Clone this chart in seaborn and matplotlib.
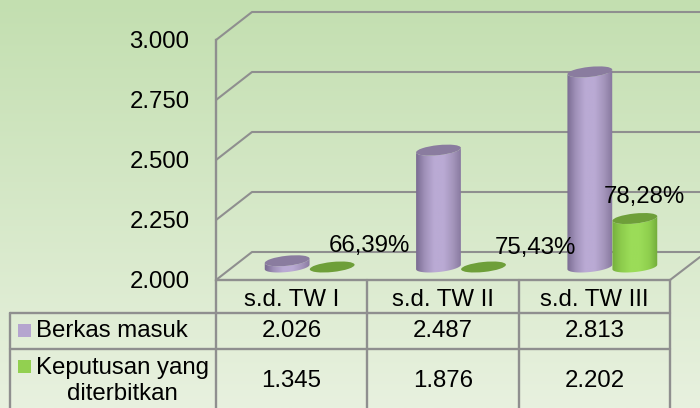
import numpy as np
import pandas as pd
import matplotlib
matplotlib.use("Agg")
import matplotlib.pyplot as plt
import seaborn as sns
from matplotlib.colors import to_rgb
from matplotlib.patches import Ellipse, PathPatch, Rectangle
from matplotlib.path import Path
from matplotlib.transforms import IdentityTransform

# -----------------------------
# DATA
# -----------------------------
categories = ["s.d. TW I", "s.d. TW II", "s.d. TW III"]
berkas_masuk = [2026, 2487, 2813]
keputusan = [1345, 1876, 2202]
persen = ["66,39%", "75,43%", "78,28%"]
y_ticks = [2000, 2250, 2500, 2750, 3000]

W, H = 700, 408
GRID = "#8f8f8f"
TEXT_SIZE = 17.3


def fmt(v):
    return f"{v:,}".replace(",", ".")


sns.set_theme(style="white")
plt.rcParams["font.family"] = ["Liberation Sans", "DejaVu Sans"]

fig = plt.figure(figsize=(W / 100, H / 100), dpi=100)


def px_axes(left, right, top, bottom):
    return fig.add_axes([left / W, 1 - bottom / H, (right - left) / W, (bottom - top) / H])


# background, walls and table are drawn in pixel units
bg = px_axes(0, W, 0, H)
bg.set_xlim(0, W)
bg.set_ylim(H, 0)
bg.axis("off")
top_c, bot_c = np.array(to_rgb("#c3dfb0")), np.array(to_rgb("#e8f1df"))
grad = np.linspace(0, 1, 256)[:, None, None] * (bot_c - top_c) + top_c
bg.imshow(grad, extent=(0, W, H, 0), aspect="auto", zorder=0)

# front plane with the value axis
front = px_axes(216, 670, 40, 280)
front.patch.set_alpha(0)
front.set_ylim(2000, 3000)
front.set_xlim(-0.5, 2.5)
front.set_yticks(y_ticks)
front.set_yticklabels([fmt(v) for v in y_ticks], fontsize=TEXT_SIZE, color="black")
front.set_xticks([])
front.tick_params(axis="y", length=0, pad=19)
for side in ["top", "right", "bottom"]:
    front.spines[side].set_visible(False)
front.spines["left"].set_color(GRID)
front.spines["left"].set_linewidth(1.7)

# gridlines on the side and back wall
for v in y_ticks:
    py = 280 - (v - 2000) * 0.24
    bg.plot([216, 252, 700], [py, py - 28, py - 28], color=GRID, lw=1.5, zorder=1)
bg.plot([670, 700], [280, 257], color=GRID, lw=1.5, zorder=1)

# bars, one depth step behind the front plane
ax = px_axes(234, 688, 27, 267)
ax.patch.set_alpha(0)
df = pd.DataFrame({
    "kategori": categories * 2,
    "nilai": berkas_masuk + keputusan,
    "seri": ["Berkas masuk"] * 3 + ["Keputusan yang diterbitkan"] * 3,
})
sns.barplot(data=df, x="kategori", y="nilai", hue="seri", width=0.595, gap=0,
            legend=False, ax=ax)
ax.set_ylim(2000, 3000)
ax.set_xlim(-0.5, 2.5)
ax.axis("off")

ANGLE = np.deg2rad(6)
ELL_H = 10


def ell_points(cx, cy, a, b, start, stop):
    t = np.linspace(start, stop, 40)
    x = cx + a * np.cos(t) * np.cos(ANGLE) - b * np.sin(t) * np.sin(ANGLE)
    y = cy + a * np.cos(t) * np.sin(ANGLE) + b * np.sin(t) * np.cos(ANGLE)
    return x, y


def cylinder(patch, stops, top_color, z):
    x0, _ = ax.transData.transform((patch.get_x(), 2000))
    x1, base = ax.transData.transform((patch.get_x() + patch.get_width(), 2000))
    _, top = ax.transData.transform((patch.get_x(), max(patch.get_height(), 2000)))
    patch.set_alpha(0)
    cx, a, b = (x0 + x1) / 2, (x1 - x0) / 2, ELL_H / 2
    if top - base > 1:
        # body: lower half of the base ellipse, closed along the top ellipse
        ex, ey = ell_points(cx, base, a, b, np.pi, 2 * np.pi)
        verts = np.column_stack([np.r_[ex, ex[::-1]], np.r_[ey, ey[::-1] + top - base]])
        clip = PathPatch(Path(verts), transform=IdentityTransform(), fc="none", ec="none")
        ax.add_patch(clip)
        colors = np.array([to_rgb(c) for c in stops])
        xs = np.linspace(0, 1, 64)
        pos = np.linspace(0, 1, len(stops))
        img = np.stack([np.interp(xs, pos, colors[:, i]) for i in range(3)], axis=-1)[None, :, :]
        im = ax.imshow(img, extent=(x0 - 1, x1 + 1, base - 8, top + 8), aspect="auto",
                       transform=IdentityTransform(), zorder=z, interpolation="bilinear")
        im.set_clip_path(clip)
        im.set_clip_box(fig.bbox)
    ax.add_patch(Ellipse((cx, top), 2 * a, 2 * b, angle=np.rad2deg(ANGLE), fc=top_color, ec="none",
                         transform=IdentityTransform(), zorder=z + 0.1, clip_on=False))
    return cx, top


purple = ["#76688e", "#a091b9", "#baaad4", "#baaad4", "#a495bb", "#83749a"]
green = ["#74ad3c", "#8ccb4c", "#9bdc58", "#9bdc58", "#8fcf4e", "#6fa838"]
bars = list(ax.patches)
for i, p in enumerate(bars[:3]):
    cylinder(p, purple, "#8a7c9f", 3)

label_off = [(37, 21), (52, 19), (10, 22)]
for i, p in enumerate(bars[3:]):
    cx, top = cylinder(p, green, "#6e9f39", 4)
    ax.annotate(persen[i], xy=(cx, top), xycoords=IdentityTransform(),
                xytext=(cx + label_off[i][0], top + label_off[i][1]), textcoords=IdentityTransform(),
                ha="center", va="center", fontsize=TEXT_SIZE, color="black", zorder=6,
                annotation_clip=False)
ax.set_ylim(2000, 3000)
ax.set_xlim(-0.5, 2.5)

# data table under the chart
col_x = [216, 367, 519, 670]
row_y = [280, 313, 349, H + 5]
tb = px_axes(0, W, 0, H)
tb.patch.set_alpha(0)
tb.set_xlim(0, W)
tb.set_ylim(H, 0)
tb.axis("off")
tb.plot([216, 670], [row_y[0], row_y[0]], color=GRID, lw=1.7)
for y in row_y[1:3]:
    tb.plot([10, 670], [y, y], color=GRID, lw=1.7)
tb.plot([10, 10], [row_y[1], H], color=GRID, lw=1.7)
for x in col_x:
    tb.plot([x, x], [row_y[0], H], color=GRID, lw=1.7)

for i, cat in enumerate(categories):
    cx = (col_x[i] + col_x[i + 1]) / 2
    tb.text(cx, 300, cat, ha="center", va="center", fontsize=TEXT_SIZE, color="black")
    tb.text(cx, 331, fmt(berkas_masuk[i]), ha="center", va="center", fontsize=TEXT_SIZE, color="black")
    tb.text(cx, 381, fmt(keputusan[i]), ha="center", va="center", fontsize=TEXT_SIZE, color="black")

tb.add_patch(Rectangle((18, 324), 13, 13, fc="#b5a5cf", ec="none"))
tb.add_patch(Rectangle((18, 360), 13, 13, fc="#92d050", ec="none"))
tb.text(36, 331, "Berkas masuk", ha="left", va="center", fontsize=TEXT_SIZE, color="black")
tb.text(36, 368, "Keputusan yang", ha="left", va="center", fontsize=TEXT_SIZE, color="black")
tb.text(122, 394, "diterbitkan", ha="center", va="center", fontsize=TEXT_SIZE, color="black")

fig.savefig("out.png", dpi=100)
